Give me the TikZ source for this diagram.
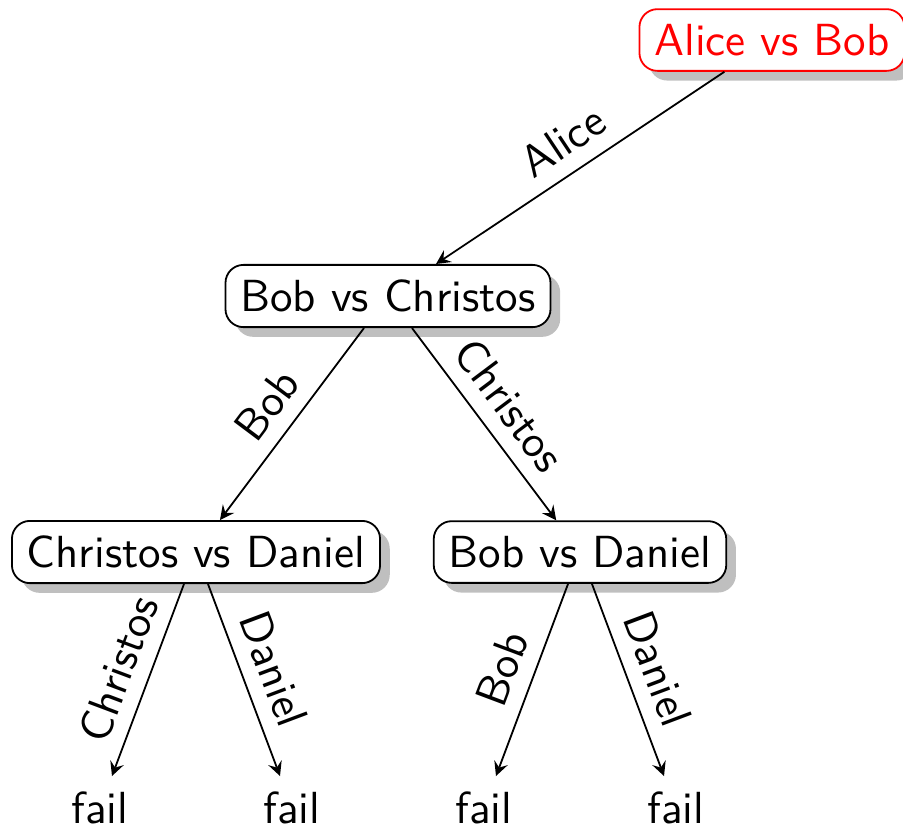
\documentclass[tikz,border=0pt]{standalone}
\usetikzlibrary{shadows}
\begin{document}
\begin{tikzpicture}[font=\sffamily,
  match/.style={draw, rounded corners=4pt, fill=white, drop shadow},
  rootmatch/.style={match, draw=red, text=red},
  outcome/.style={inner sep=.3333em},
  link/.style={-stealth},
  lbl/.style={sloped, above}]
\useasboundingbox (-6.03125,0.3125) rectangle (1.0234,-6.171875);
% matches
\node[rootmatch] (ab) at (0,0) {Alice vs Bob};
\node[match] (bc) at (-3,-2) {Bob vs Christos};
\node[match] (cd) at (-4.5,-4) {Christos vs Daniel};
\node[match] (bd) at (-1.5,-4) {Bob vs Daniel};
% outcomes
\node[outcome] (f1) at (-5.25,-6) {fail};
\node[outcome] (f2) at (-3.75,-6) {fail};
\node[outcome] (f3) at (-2.25,-6) {fail};
\node[outcome] (f4) at (-0.75,-6) {fail};
% winners
\draw[link] (ab) -- node[lbl] {Alice} (bc);
\draw[link] (bc) -- node[lbl] {Bob} (cd);
\draw[link] (bc) -- node[lbl] {Christos} (bd);
\draw[link] (cd) -- node[lbl] {Christos} (f1);
\draw[link] (cd) -- node[lbl] {Daniel} (f2);
\draw[link] (bd) -- node[lbl] {Bob} (f3);
\draw[link] (bd) -- node[lbl] {Daniel} (f4);
\end{tikzpicture}
\end{document}
